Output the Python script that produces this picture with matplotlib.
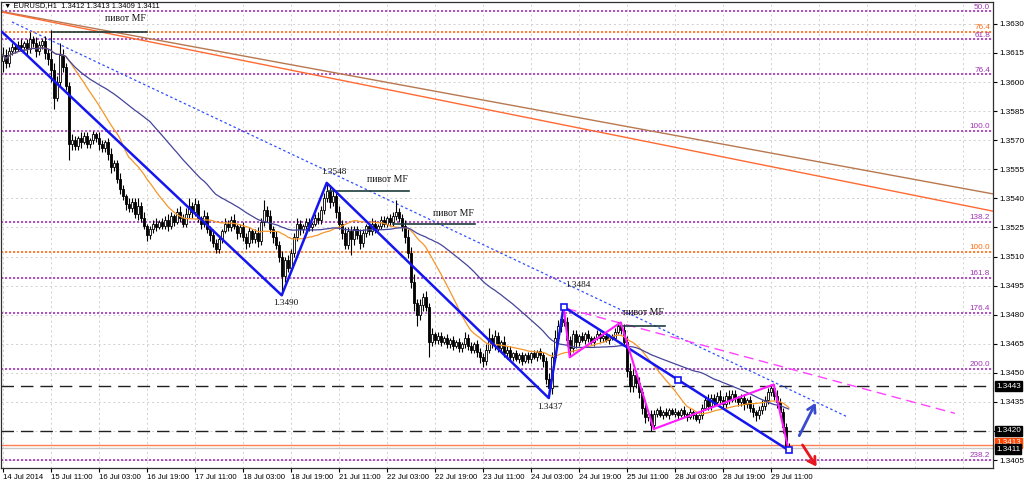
import matplotlib
matplotlib.use("Agg")
import matplotlib.pyplot as plt
import matplotlib.transforms as mtransforms
import numpy as np
import pandas as pd

#-EURUSD H1, 14 Jul 19:00 .. 29 Jul 17:00 (one value per hourly bar)------
first_open = 1.3611
closes = [
    1.3614, 1.3610, 1.3616, 1.3618, 1.3617, 1.3619, 1.3618, 1.3620, 1.3617, 1.3622,
    1.3620, 1.3616, 1.3619, 1.3621, 1.3615, 1.3612, 1.3606, 1.3592, 1.3600, 1.3614,
    1.3608, 1.3598, 1.3568, 1.3570, 1.3567, 1.3571, 1.3569, 1.3572, 1.3568, 1.3570,
    1.3573, 1.3571, 1.3568, 1.3566, 1.3569, 1.3563, 1.3556, 1.3558, 1.3550, 1.3545,
    1.3541, 1.3537, 1.3535, 1.3538, 1.3532, 1.3536, 1.3530, 1.3526, 1.3521, 1.3524,
    1.3527, 1.3525, 1.3528, 1.3526, 1.3529, 1.3526, 1.3531, 1.3528, 1.3533, 1.3530,
    1.3527, 1.3532, 1.3536, 1.3533, 1.3537, 1.3530, 1.3527, 1.3531, 1.3524, 1.3521,
    1.3517, 1.3514, 1.3519, 1.3523, 1.3527, 1.3525, 1.3529, 1.3526, 1.3522, 1.3525,
    1.3520, 1.3517, 1.3523, 1.3519, 1.3522, 1.3518, 1.3528, 1.3534, 1.3531, 1.3524,
    1.3520, 1.3516, 1.3510, 1.3500, 1.3508, 1.3504, 1.3512, 1.3520, 1.3527, 1.3524,
    1.3526, 1.3528, 1.3525, 1.3527, 1.3530, 1.3529, 1.3534, 1.3540, 1.3544, 1.3538,
    1.3541, 1.3533, 1.3527, 1.3522, 1.3516, 1.3523, 1.3519, 1.3524, 1.3521, 1.3517,
    1.3522, 1.3526, 1.3523, 1.3527, 1.3524, 1.3526, 1.3529, 1.3527, 1.3530, 1.3528,
    1.3531, 1.3533, 1.3530, 1.3526, 1.3520, 1.3512, 1.3497, 1.3486, 1.3480, 1.3485,
    1.3489, 1.3484, 1.3466, 1.3470, 1.3467, 1.3469, 1.3466, 1.3468, 1.3465, 1.3467,
    1.3464, 1.3466, 1.3463, 1.3465, 1.3468, 1.3464, 1.3462, 1.3465, 1.3461, 1.3458,
    1.3456, 1.3462, 1.3468, 1.3465, 1.3469, 1.3463, 1.3466, 1.3460, 1.3462, 1.3458,
    1.3460, 1.3457, 1.3459, 1.3456, 1.3459, 1.3457, 1.3460, 1.3458, 1.3461, 1.3459,
    1.3456, 1.3447, 1.3442, 1.3458, 1.3468, 1.3474, 1.3478, 1.3476, 1.3467, 1.3463,
    1.3470, 1.3466, 1.3469, 1.3467, 1.3470, 1.3468, 1.3466, 1.3468, 1.3470, 1.3468,
    1.3469, 1.3467, 1.3469, 1.3468, 1.3471, 1.3474, 1.3472, 1.3466, 1.3451, 1.3443,
    1.3449, 1.3445, 1.3440, 1.3432, 1.3427, 1.3429, 1.3423, 1.3429, 1.3431, 1.3428,
    1.3430, 1.3428, 1.3431, 1.3429, 1.3430, 1.3428, 1.3431, 1.3429, 1.3427, 1.3430,
    1.3428, 1.3426, 1.3428, 1.3432, 1.3436, 1.3433, 1.3437, 1.3435, 1.3438, 1.3436,
    1.3434, 1.3438, 1.3436, 1.3439, 1.3437, 1.3435, 1.3437, 1.3434, 1.3436, 1.3432,
    1.3430, 1.3428, 1.3431, 1.3433, 1.3436, 1.3440, 1.3442, 1.3438, 1.3435, 1.3430,
    1.3422, 1.3412, 1.3411,
]
# wick lengths in pips above max(open, close) / below min(open, close)
wick_up = [
    4, 3, 2, 2, 1, 2, 3, 1, 2, 4,  2, 3, 2, 1, 3, 2, 15, 4, 3, 6,
    3, 2, 2, 3, 2, 1, 3, 2, 2, 1,  2, 1, 3, 2, 1, 2, 3, 2, 2, 3,
    2, 1, 3, 2, 2, 4, 2, 3, 1, 2,  2, 3, 1, 2, 2, 3, 2, 1, 2, 3,
    2, 3, 4, 2, 3, 2, 1, 3, 2, 2,  3, 2, 2, 1, 3, 2, 2, 3, 1, 2,
    3, 2, 2, 1, 2, 3, 2, 5, 2, 3,  2, 3, 2, 3, 2, 3, 2, 2, 3, 2,
    1, 2, 2, 1, 2, 3, 2, 3, 4, 3,  4, 2, 3, 2, 3, 2, 3, 2, 2, 3,
    2, 1, 2, 3, 2, 1, 2, 2, 1, 2,  2, 6, 2, 2, 3, 4, 3, 4, 2, 3,
    2, 3, 2, 3, 1, 2, 2, 1, 2, 1,  2, 1, 2, 1, 3, 2, 2, 1, 2, 2,
    2, 3, 5, 2, 3, 2, 1, 3, 2, 2,  1, 2, 1, 2, 1, 2, 1, 2, 1, 2,
    2, 2, 3, 3, 4, 3, 2, 6, 3, 2,  2, 2, 1, 2, 1, 2, 1, 1, 2, 1,
    1, 2, 1, 1, 2, 2, 2, 3, 3, 4,  3, 2, 3, 2, 3, 2, 2, 2, 1, 2,
    1, 2, 1, 1, 2, 1, 1, 2, 1, 2,  1, 2, 1, 2, 2, 3, 2, 2, 2, 3,
    2, 2, 3, 2, 2, 1, 2, 2, 1, 2,  2, 1, 2, 3, 2, 2, 2, 2, 3, 2,
    2, 2, 2,
]
wick_dn = [
    6, 3, 2, 2, 2, 1, 2, 2, 3, 2,  2, 3, 2, 2, 3, 3, 6, 6, 2, 2,
    3, 2, 8, 3, 2, 2, 3, 1, 2, 2,  2, 2, 3, 2, 2, 3, 3, 2, 2, 3,
    2, 3, 2, 2, 2, 3, 2, 2, 3, 2,  2, 2, 1, 2, 2, 3, 2, 2, 1, 2,
    2, 2, 2, 3, 2, 2, 3, 2, 2, 3,  2, 2, 2, 2, 1, 2, 2, 2, 3, 2,
    2, 3, 2, 2, 2, 3, 2, 2, 3, 2,  3, 2, 3, 10, 3, 2, 2, 2, 2, 3,
    2, 2, 2, 2, 1, 2, 2, 2, 2, 3,  2, 3, 3, 3, 2, 2, 8, 3, 2, 3,
    2, 2, 2, 2, 2, 1, 2, 2, 2, 2,  2, 2, 2, 3, 3, 3, 3, 4, 6, 3,
    3, 2, 8, 2, 2, 2, 2, 1, 2, 2,  2, 1, 2, 2, 2, 2, 2, 2, 3, 3,
    3, 2, 2, 2, 3, 2, 2, 2, 3, 2,  2, 1, 2, 2, 1, 2, 2, 1, 2, 2,
    3, 3, 5, 3, 2, 2, 3, 2, 3, 5,  2, 3, 2, 1, 2, 2, 1, 2, 1, 2,
    2, 1, 2, 1, 1, 1, 2, 2, 3, 3,  3, 3, 3, 3, 3, 2, 3, 2, 2, 1,
    2, 1, 2, 1, 2, 2, 1, 2, 2, 1,  2, 1, 2, 2, 1, 2, 2, 2, 1, 2,
    2, 2, 2, 1, 2, 2, 2, 3, 2, 2,  3, 3, 2, 2, 2, 2, 2, 2, 3, 3,
    3, 3, 2,
]
tick_labels = ["14 Jul 2014", "15 Jul 11:00", "16 Jul 03:00", "16 Jul 19:00",
               "17 Jul 11:00", "18 Jul 03:00", "18 Jul 19:00", "21 Jul 11:00",
               "22 Jul 03:00", "22 Jul 19:00", "23 Jul 11:00", "24 Jul 03:00",
               "24 Jul 19:00", "25 Jul 11:00", "28 Jul 03:00", "28 Jul 19:00",
               "29 Jul 11:00"]
last_ohlc = "1.3412 1.3413 1.3409 1.3411"

#-Objects on the chart (bar index, price)---------------------------------
fibo_purple = [("50.0", 1.36365), ("61.8", 1.36220), ("76.4", 1.36040),
               ("100.0", 1.35750), ("138.2", 1.35280), ("161.8", 1.34990),
               ("176.4", 1.34810), ("200.0", 1.34520), ("238.2", 1.34050)]
fibo_orange = [("76.4", 1.36259), ("100.0", 1.35125)]
dash_levels = [1.3443, 1.3420]
zigzag_blue = [(-0.3, 1.3626), (93, 1.3490), (108, 1.3548), (182, 1.3437),
               (187, 1.3484), (262, 1.3410)]
zigzag_blue_marks = [(187, 1.3484), (225, 1.34465), (262, 1.3410)]
zigzag_pink = [(187, 1.3484), (189, 1.3458), (206, 1.3476), (217, 1.3421),
               (257, 1.3444), (262, 1.3410)]
pivots = [(16.8, 48.1, 1.3626), (108.4, 135.4, 1.3544),
          (130.1, 157.4, 1.3527), (205.8, 220.8, 1.3474)]
pivot_text = [(34.1, 1.36326), (121.4, 1.35499), (143.4, 1.35324), (206.8, 1.34810)]
swing_labels = [("1.3548", 110.4, 1.35535), ("1.3490", 94.4, 1.34862),
                ("1.3484", 191.8, 1.34954), ("1.3437", 182.4, 1.34322)]
line_brown = [(-0.6, 1.36365), (330.1, 1.35423)]
line_orange = [(-0.6, 1.36362), (330.1, 1.35334)]
line_blue_dot = [(3.1, 1.36310), (281.8, 1.34271)]
line_pink_dash = [(188.1, 1.34831), (317.4, 1.34291)]
arrow_up = [(265.1, 1.34163), (271.4, 1.34358)]
arrow_down = [(266.1, 1.34140), (271.8, 1.34004)]
ask, bid = 1.3413, 1.3411
#--------------------------------------------------------------------------

purple = "#A033B4"
fib_orange = "#FF6A10"

c = np.array(closes)
o = np.array([first_open] + closes[:-1])
hi = np.maximum(o, c) + np.array(wick_up) * 0.0001
lo = np.minimum(o, c) - np.array(wick_dn) * 0.0001
x = np.arange(len(c))

fig = plt.figure(figsize=(10.24, 4.82), dpi=100)
ax = fig.add_axes([1 / 1024, 14 / 482, 992 / 1024, 466 / 482])
ax.set_xlim(-0.57, 330.1)
ax.set_ylim(1.34009, 1.36413)

# grid
yt = np.round(np.arange(1.3405, 1.36301, 0.0015), 4)
for p in yt:
    ax.axhline(p, color="#CFCFCF", lw=0.7, ls=(0, (2, 3)), zorder=0)
for i in range(0, 330, 16):
    ax.axvline(i, color="#CFCFCF", lw=0.7, ls=(0, (2, 3)), zorder=0)

# fibo levels
tr = mtransforms.blended_transform_factory(ax.transAxes, ax.transData)
for lab, p in fibo_purple:
    ax.axhline(p, color=purple, lw=1.2, ls=(0, (1.3, 1.1)), zorder=1)
    ax.text(0.997, p + 0.00003, lab, transform=tr, ha="right", va="bottom",
            color=purple, fontsize=5.9, family="Liberation Sans")
for lab, p in fibo_orange:
    ax.axhline(p, color=fib_orange, lw=1.2, ls=(0, (1.3, 1.1)), zorder=1)
    ax.text(0.997, p + 0.00003, lab, transform=tr, ha="right", va="bottom",
            color=fib_orange, fontsize=5.9, family="Liberation Sans")
for p in dash_levels:
    ax.axhline(p, color="#202020", lw=1.0, ls=(0, (9, 5)), zorder=1)
ax.axhline(bid, color="#C8C8C8", lw=1.0, zorder=1)
ax.axhline(ask, color="#FF7F50", lw=1.0, zorder=1)

# long trend lines
for pts, col, ls, lw in [(line_brown, "#B87850", "-", 1.0),
                         (line_orange, "#FF6A33", "-", 1.0),
                         (line_blue_dot, "#3050FF", (0, (2, 2)), 0.9),
                         (line_pink_dash, "#FF44FF", (0, (7, 4)), 1.0)]:
    ax.plot([pts[0][0], pts[1][0]], [pts[0][1], pts[1][1]], color=col, ls=ls, lw=lw, zorder=2)

# candles
up = c >= o
ax.vlines(x, lo, hi, color="black", lw=0.8, zorder=3)
ax.bar(x[up], (c - o)[up], bottom=o[up], width=0.72, color="white",
       edgecolor="black", lw=0.6, zorder=4)
ax.bar(x[~up], (o - c)[~up], bottom=c[~up], width=0.72, color="black",
       edgecolor="black", lw=0.6, zorder=4)

# moving averages
s = pd.Series(c)
ax.plot(x, s.rolling(21, min_periods=1).mean(), color="#F5962A", lw=0.9, zorder=5)
ax.plot(x, s.rolling(50, min_periods=1).mean(), color="#45459A", lw=0.9, zorder=5)

# pivots
for x0, x1, p in pivots:
    ax.plot([x0, x1], [p, p], color="#1E3C3C", lw=1.2, zorder=6)
for xt, p in pivot_text:
    ax.text(xt, p, "пивот MF", ha="left", va="center", fontsize=7,
            family="Liberation Serif", color="#111111", zorder=7)
for lab, xt, p in swing_labels:
    ax.text(xt, p, lab, ha="center", va="center", fontsize=6.6,
            family="Liberation Serif", color="#111111", zorder=7)

# zigzags
zx, zy = zip(*zigzag_blue)
ax.plot(zx, zy, color="#1515F0", lw=1.8, zorder=8, solid_capstyle="round")
zx, zy = zip(*zigzag_pink)
ax.plot(zx, zy, color="#FF1AFF", lw=1.5, zorder=9)
mx, my = zip(*zigzag_blue_marks)
ax.plot(mx, my, ls="none", marker="s", ms=4, mfc="white", mec="#1515F0",
        mew=1.2, zorder=10)

# arrows
for pts, col in [(arrow_up, "#3A4ACC"), (arrow_down, "#E8141E")]:
    ax.annotate("", xy=pts[1], xytext=pts[0], annotation_clip=False,
                arrowprops=dict(arrowstyle="->,head_length=0.5,head_width=0.3",
                                color=col, lw=2.0), zorder=11)

# axes (scale labels under a price box are left blank)
boxed = [round(p, 4) for p in dash_levels]
ax.yaxis.tick_right()
ax.set_yticks(yt)
ax.set_yticklabels(["" if p in boxed else f"{p:.4f}" for p in yt],
                   fontsize=5.9, family="Liberation Sans")
ax.set_xticks(np.arange(0, 257, 16))
ax.set_xticklabels(tick_labels, fontsize=5.6, family="Liberation Sans", ha="left")
ax.tick_params(axis="both", length=3, width=0.8, pad=1.5, colors="black")
for sp in ax.spines.values():
    sp.set_color("#303030")
    sp.set_linewidth(0.9)

# price boxes on the right scale (ask box sits just behind the bid box)
for p, txt, fc in [(ask + 0.00008, "1.3413", "#FF4500"), (dash_levels[0], "1.3443", "black"),
                   (dash_levels[1], "1.3420", "black"), (bid - 0.00004, "1.3411", "black")]:
    ax.text(1.003, p, txt, transform=tr, ha="left", va="center", color="white",
            fontsize=5.9, family="Liberation Sans", zorder=12, clip_on=False,
            bbox=dict(facecolor=fc, edgecolor=fc, pad=1.0))

fig.text(4 / 1024, 1 - 6 / 482, "▼ EURUSD,H1  " + last_ohlc, ha="left", va="center",
         fontsize=5.4, family=["Liberation Sans", "DejaVu Sans"], color="black")

fig.savefig("out.png", dpi=100)
